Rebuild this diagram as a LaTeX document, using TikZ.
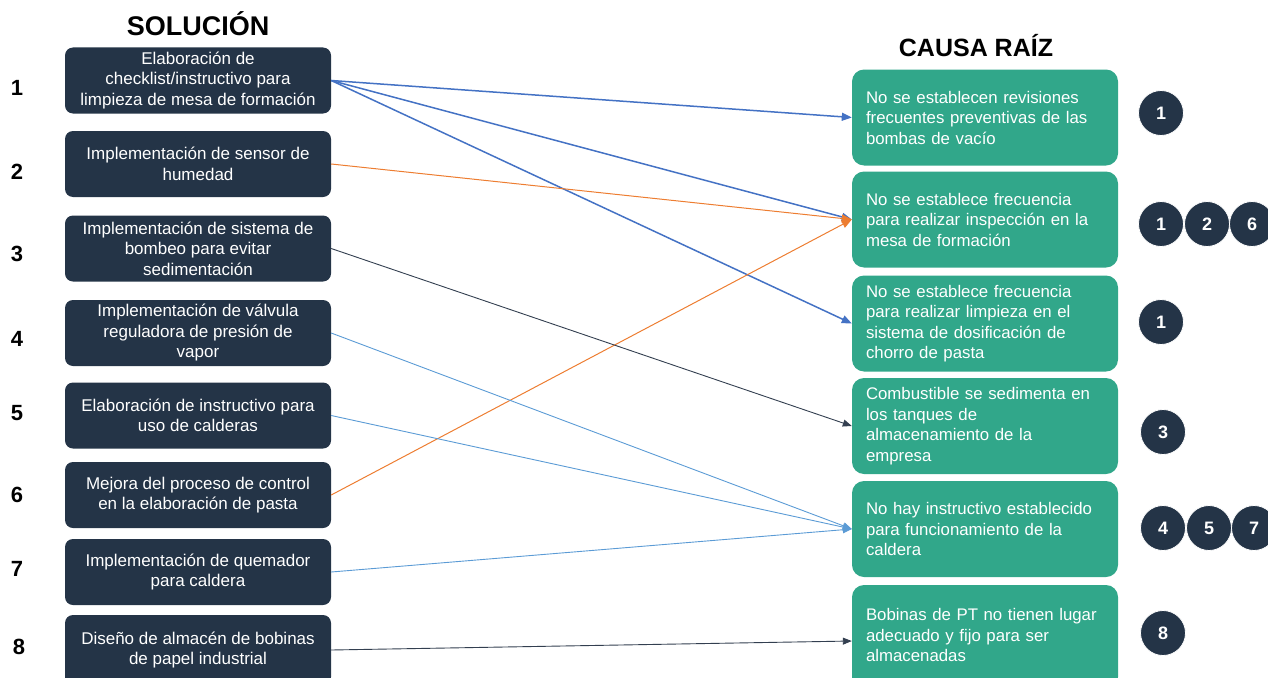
\documentclass[tikz,border=0pt]{standalone}
\usepackage{fontspec}
\setmainfont{Liberation Sans}
\usetikzlibrary{arrows.meta}

\definecolor{azulosc}{HTML}{243447}
\definecolor{verdecausa}{HTML}{31A78A}
\definecolor{azulfl}{HTML}{4472C4}
\definecolor{naranjafl}{HTML}{ED7D31}
\definecolor{grisfl}{HTML}{333F50}
\definecolor{celestefl}{HTML}{5B9BD5}

\tikzset{
  solbox/.style={rectangle, rounded corners=8pt, fill=azulosc, text=white,
    minimum width=266pt, minimum height=66pt, inner sep=2pt, align=center,
    font=\fontsize{17}{20.5}\selectfont},
  causabox/.style={rectangle, rounded corners=12pt, fill=verdecausa, text=white,
    minimum width=266pt, minimum height=96pt, text width=238pt, align=left,
    font=\fontsize{16.8}{20.5}\selectfont},
  numcirc/.style={circle, fill=azulosc, draw=white, line width=0.8pt,
    minimum size=45pt, inner sep=0pt, text=white,
    font=\bfseries\fontsize{18}{18}\selectfont},
  numlbl/.style={font=\bfseries\fontsize{22}{22}\selectfont},
  titulo/.style={font=\bfseries\fontsize{25}{25}\selectfont},
  flechaazul/.style={draw=azulfl, line width=1.5pt, -{Triangle[length=10pt,width=8pt]}},
  flechanar/.style={draw=naranjafl, line width=1pt, -{Triangle[length=10pt,width=8pt]}},
  flechagris/.style={draw=grisfl, line width=0.9pt, -{Triangle[length=9pt,width=7pt]}},
  flechacel/.style={draw=celestefl, line width=0.9pt, -{Triangle[length=9pt,width=7pt]}}
}

\begin{document}
\begin{tikzpicture}[x=1pt, y=-1pt]
\useasboundingbox (0,0) rectangle (1268,677);

% titulos
\node[titulo, font=\bfseries\fontsize{27}{27}\selectfont] (tsol) at (198,24) {SOLUCIÓN};
\node[titulo] (tcausa) at (976,46) {CAUSA RAÍZ};

% soluciones
\node[solbox] (s1) at (198,80.5) {Elaboración de\\checklist/instructivo para\\limpieza de mesa de formación};
\node[solbox] (s2) at (198,164) {Implementación de sensor de\\humedad};
\node[solbox] (s3) at (198,248.5) {Implementación de sistema de\\bombeo para evitar\\sedimentación};
\node[solbox] (s4) at (198,333) {Implementación de válvula\\reguladora de presión de\\vapor};
\node[solbox] (s5) at (198,415.5) {Elaboración de instructivo para\\uso de calderas};
\node[solbox] (s6) at (198,495) {Mejora del proceso de control\\en la elaboración de pasta};
\node[solbox] (s7) at (198,572) {Implementación de quemador\\para caldera};
\node[solbox, minimum height=70pt] (s8) at (198,650) {Diseño de almacén de bobinas\\de papel industrial};

% numeros
\node[numlbl] (n1) at (17,88) {1};
\node[numlbl] (n2) at (17,172) {2};
\node[numlbl] (n3) at (17,254) {3};
\node[numlbl] (n4) at (17,339) {4};
\node[numlbl] (n5) at (17,413) {5};
\node[numlbl] (n6) at (17,495) {6};
\node[numlbl] (n7) at (17,569) {7};
\node[numlbl] (n8) at (19,647) {8};

% causas
\node[causabox] (c1) at (985,117.5) {No se establecen revisiones\\frecuentes preventivas de las\\bombas de vacío};
\node[causabox] (c2) at (985,219.5) {No se establece frecuencia\\para realizar inspección en la\\mesa de formación};
\node[causabox] (c3) at (985,323.5) {No se establece frecuencia\\para realizar limpieza en el\\sistema de dosificación de\\chorro de pasta};
\node[causabox] (c4) at (985,426) {Combustible se sedimenta en\\los tanques de\\almacenamiento de la\\empresa};
\node[causabox] (c5) at (985,529) {No hay instructivo establecido\\para funcionamiento de la\\caldera};
\node[causabox, minimum height=104pt] (c6) at (985,637) {Bobinas de PT no tienen lugar\\adecuado y fijo para ser\\almacenadas\vphantom{g}\\[8pt]};

% circulos
\node[numcirc] (k1) at (1161,113) {1};
\node[numcirc] (k2a) at (1161,224) {1};
\node[numcirc] (k2b) at (1207,224) {2};
\node[numcirc] (k2c) at (1252,224) {6};
\node[numcirc] (k3) at (1161,322) {1};
\node[numcirc] (k4) at (1163,432) {3};
\node[numcirc] (k5a) at (1163,528) {4};
\node[numcirc] (k5b) at (1209,528) {5};
\node[numcirc] (k5c) at (1254,528) {7};
\node[numcirc] (k6) at (1163,633) {8};

% flechas
\draw[flechaazul] (s1.east) -- (c1.west);
\draw[flechaazul] (s1.east) -- (c2.west);
\draw[flechaazul] (s1.east) -- (c3.west);
\draw[flechanar] (s2.east) -- (c2.west);
\draw[flechanar] (s6.east) -- (c2.west);
\draw[flechagris] (s3.east) -- (c4.west);
\draw[flechacel] (s4.east) -- (c5.west);
\draw[flechacel] (s5.east) -- (c5.west);
\draw[flechacel] (s7.east) -- (c5.west);
\draw[flechagris] (s8.east) -- ([yshift=-4pt]c6.west);
\end{tikzpicture}
\end{document}
